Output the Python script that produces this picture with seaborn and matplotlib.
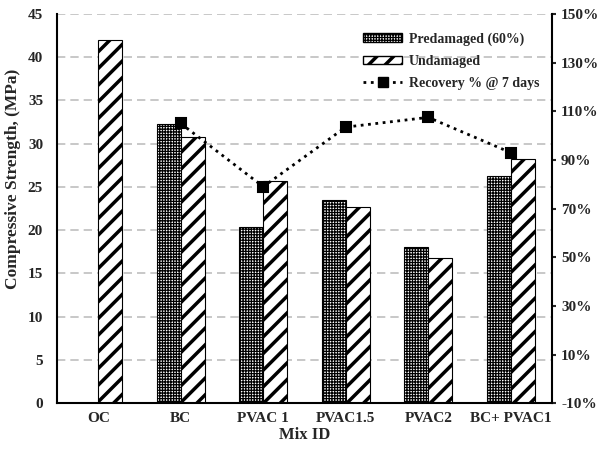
import numpy as np
import pandas as pd
import seaborn as sns
import matplotlib.pyplot as plt
from matplotlib.lines import Line2D
from matplotlib.patches import Patch

mixes = ["OC", "BC", "PVAC 1", "PVAC1.5", "PVAC2", "BC+ PVAC1"]
predamaged = [0.0, 32.3, 20.4, 23.5, 18.1, 26.3]
undamaged = [42.0, 30.8, 25.7, 22.7, 16.8, 28.2]
recovery = [np.nan, 105.0, 79.0, 103.5, 107.5, 93.0]

sns.set_style("white")
plt.rcParams["font.family"] = ["Liberation Serif", "DejaVu Serif"]
plt.rcParams["font.weight"] = "bold"
plt.rcParams["hatch.linewidth"] = 2.5

DOT_HATCH = "++++++"


def dot_style(p):
    p.set_facecolor("white")
    p.set_edgecolor("black")
    p.set_hatch(DOT_HATCH)
    if hasattr(p, "set_hatch_linewidth"):
        p.set_hatch_linewidth(0.9)


df = pd.DataFrame({
    "Mix ID": mixes * 2,
    "Strength": predamaged + undamaged,
    "Series": ["Predamaged (60%)"] * 6 + ["Undamaged"] * 6,
})

fig = plt.figure(figsize=(6, 4.51), dpi=100)
ax = fig.add_axes([0.095, 0.106, 0.825, 0.863])

sns.barplot(data=df, x="Mix ID", y="Strength", hue="Series", order=mixes,
            hue_order=["Predamaged (60%)", "Undamaged"], width=0.58,
            palette=["black", "white"], edgecolor="black", linewidth=0.8,
            legend=False, ax=ax)

n = len(mixes)
for i, p in enumerate(ax.patches[:2 * n]):
    if i < n:
        dot_style(p)
    else:
        p.set_facecolor("white")
        p.set_edgecolor("black")
        p.set_hatch("//")

ax.set_ylim(0, 45)
ax.set_yticks(range(0, 46, 5))
ax.yaxis.grid(True, linestyle=(0, (5, 3)), color="#bfbfbf", lw=1.2)
ax.set_axisbelow(True)
ax.set_ylabel("Compressive Strength, (MPa)", fontsize=12.5, fontweight="bold")
ax.yaxis.set_label_coords(-0.073, 0.576)
ax.set_xlabel("Mix ID", fontsize=12, fontweight="bold", labelpad=2)
ax.tick_params(axis="y", labelsize=11, length=0, pad=10)
ax.tick_params(axis="x", labelsize=11, length=0, pad=6)
for s in ["left", "bottom"]:
    ax.spines[s].set_color("black")
    ax.spines[s].set_linewidth(1.5)
ax.spines["top"].set_visible(False)
ax.spines["right"].set_visible(False)

ax2 = ax.twinx()
sns.pointplot(x=mixes, y=recovery, order=mixes, color="black", markers="s",
              linestyles=":", markersize=7.5, linewidth=2, ax=ax2)
ax2.set_ylim(-10, 150)
ax2.set_yticks(range(-10, 151, 20))
ax2.set_yticklabels([f"{v}%" for v in range(-10, 151, 20)])
ax2.tick_params(axis="y", labelsize=11, direction="out", length=3, width=1.5, right=True)
ax2.spines["right"].set_visible(True)
ax2.spines["right"].set_color("black")
ax2.spines["right"].set_linewidth(1.5)
for s in ["top", "left", "bottom"]:
    ax2.spines[s].set_visible(False)
ax2.set_xlim(ax.get_xlim())

h_dot = Patch()
dot_style(h_dot)
handles = [
    h_dot,
    Patch(facecolor="white", edgecolor="black", hatch="//"),
    Line2D([], [], color="black", linestyle=":", marker="s", markersize=7.5, lw=2),
]
leg = ax2.legend(handles, ["Predamaged (60%)", "Undamaged", "Recovery % @ 7 days"],
                 loc="upper right", bbox_to_anchor=(1.0, 0.985), frameon=False,
                 prop={"weight": "bold", "size": 10}, handlelength=2.8, handleheight=0.6,
                 labelspacing=0.65, handletextpad=0.5)
dot_style(leg.legend_handles[0])

fig.savefig("out.png", dpi=100)
